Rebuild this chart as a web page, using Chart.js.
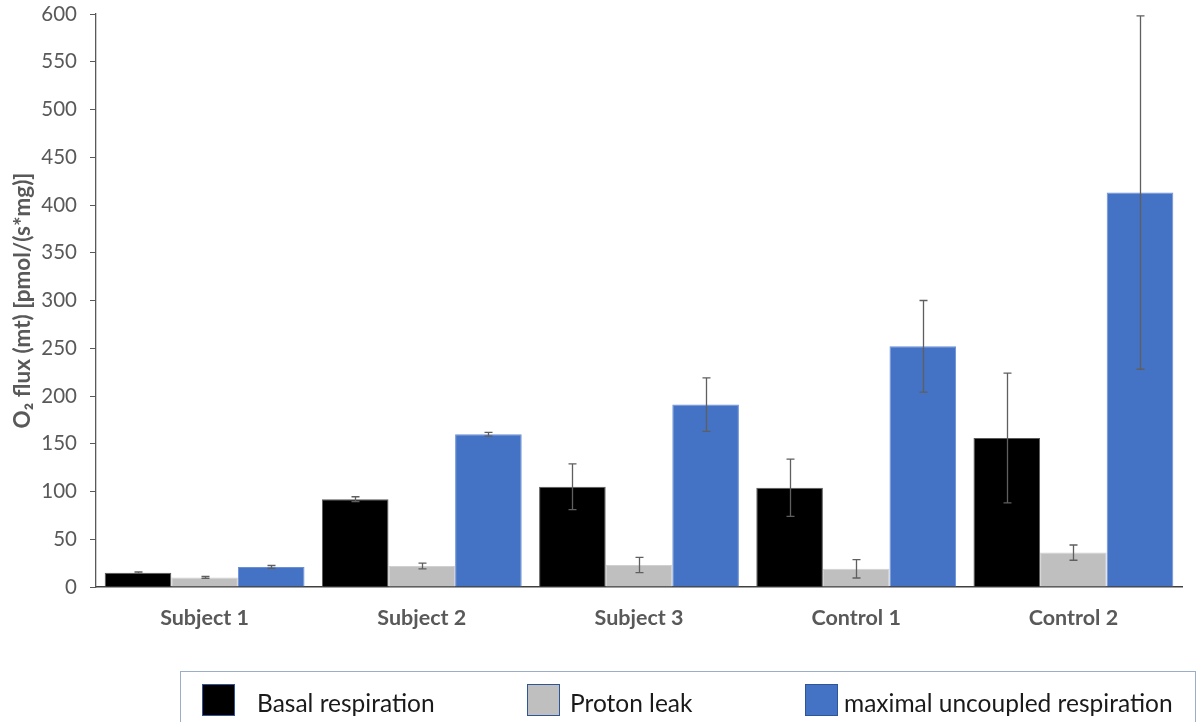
<!DOCTYPE html>
<html>
<head>
<meta charset="utf-8">
<script src="https://cdn.jsdelivr.net/npm/chart.js@4/dist/chart.umd.min.js"></script>
<style>
  html, body { margin: 0; padding: 0; background: #fff; }
  #wrap { position: relative; width: 1198px; height: 722px; overflow: hidden; }
  #c { position: absolute; left: 0; top: 0; }
  #legend { position: absolute; left: 180px; top: 671px; width: 1016px; height: 70px;
            border: 1px solid #9aaec6; box-sizing: border-box; font-family: Lato, "Open Sans", sans-serif; }
  .item { position: absolute; top: 12px; height: 32px; display: flex; align-items: center; }
  .box { width: 33px; height: 32px; box-sizing: border-box; border: 1px solid #2f5597; }
  .lbl { font-size: 24.5px; color: #1a1a1a; white-space: nowrap; position: relative; top: 2px; }
</style>
</head>
<body>
<div id="wrap">
  <canvas id="c" width="1198" height="722"></canvas>
  <div id="legend"></div>
</div>
<script>
const categories = ["Subject 1", "Subject 2", "Subject 3", "Control 1", "Control 2"];
const seriesNames = ["Basal respiration", "Proton leak", "maximal uncoupled respiration"];
const basal = [15, 92, 105, 104, 156];
const basalErr = [0.8, 2.5, 24, 30, 68];
const leak = [10, 22, 23, 19, 36];
const leakErr = [1, 3, 8, 9.6, 8];
const maximal = [21, 160, 191, 252, 413];
const maximalErr = [1.5, 2, 28, 48, 185];
const yTicks = [0, 50, 100, 150, 200, 250, 300, 350, 400, 450, 500, 550, 600];

const colors = ["#000000", "#bfbfbf", "#4472c4"];
const borders = ["#5a5a5a", "#d0d0d0", "#6a8fd6"];
const values = [basal, leak, maximal];
const errs = [basalErr, leakErr, maximalErr];

const errorBars = {
  id: 'errorBars',
  afterDatasetsDraw(chart) {
    const ctx = chart.ctx;
    const y = chart.scales.y;
    ctx.save();
    ctx.strokeStyle = '#5f5f5f';
    ctx.lineWidth = 1.3;
    chart.data.datasets.forEach((ds, di) => {
      const meta = chart.getDatasetMeta(di);
      meta.data.forEach((el, i) => {
        const v = ds.data[i], e = ds.errors[i];
        const yt = y.getPixelForValue(v + e), yb = y.getPixelForValue(v - e);
        const x = Math.round(el.x) + 0.5;
        ctx.beginPath();
        ctx.moveTo(x, yt); ctx.lineTo(x, yb);
        ctx.moveTo(x - 4, yt); ctx.lineTo(x + 4, yt);
        ctx.moveTo(x - 4, yb); ctx.lineTo(x + 4, yb);
        ctx.stroke();
      });
    });
    ctx.restore();
  }
};

const datasets = seriesNames.map((n, k) => ({
  label: n,
  data: values[k],
  errors: errs[k],
  backgroundColor: colors[k],
  borderColor: borders[k],
  borderWidth: 1,
  barPercentage: 1.0,
  categoryPercentage: 0.92
}));

new Chart(document.getElementById('c'), {
  type: 'bar',
  data: { labels: categories, datasets },
  options: {
    responsive: false,
    devicePixelRatio: 1,
    animation: false,
    layout: { padding: { top: 14, right: 16, left: 0, bottom: 0 } },
    plugins: { legend: { display: false }, tooltip: { enabled: false } },
    scales: {
      x: {
        grid: { display: false, drawTicks: false },
        border: { display: true, color: '#404040', width: 1.5 },
        ticks: { color: '#595959', font: { family: 'Lato', size: 21.5, weight: 'bold' }, padding: 18 },
        afterFit(s) { s.height = 135; s.paddingLeft = 0; s.paddingRight = 0; }
      },
      y: {
        min: 0, max: 600,
        afterBuildTicks(s) { s.ticks = yTicks.map(v => ({ value: v })); },
        grid: { display: true, drawOnChartArea: false, drawTicks: true, tickLength: 6, color: '#595959' },
        border: { display: true, color: '#595959', width: 1.3 },
        ticks: { color: '#595959', font: { family: 'Lato', size: 20.5 }, padding: 13 },
        title: { display: true, text: 'O\u2082 flux (mt) [pmol/(s*mg)]', color: '#595959',
                 font: { family: 'Lato', size: 22.5, weight: 'bold' }, padding: { top: 9, bottom: 0 } },
        afterFit(s) { s.width = 96; s.paddingTop = 0; s.paddingBottom = 0; }
      }
    }
  },
  plugins: [errorBars]
});

// HTML legend built from series arrays
const legendLeft = [21, 346, 624];
const legendGap = [22, 10, 6];
const legend = document.getElementById('legend');
seriesNames.forEach((n, k) => {
  const it = document.createElement('div');
  it.className = 'item';
  it.style.left = legendLeft[k] + 'px';
  const b = document.createElement('div');
  b.className = 'box';
  b.style.background = colors[k];
  b.style.marginRight = legendGap[k] + 'px';
  const t = document.createElement('span');
  t.className = 'lbl';
  t.textContent = n;
  it.appendChild(b); it.appendChild(t);
  legend.appendChild(it);
});
</script>
</body>
</html>
